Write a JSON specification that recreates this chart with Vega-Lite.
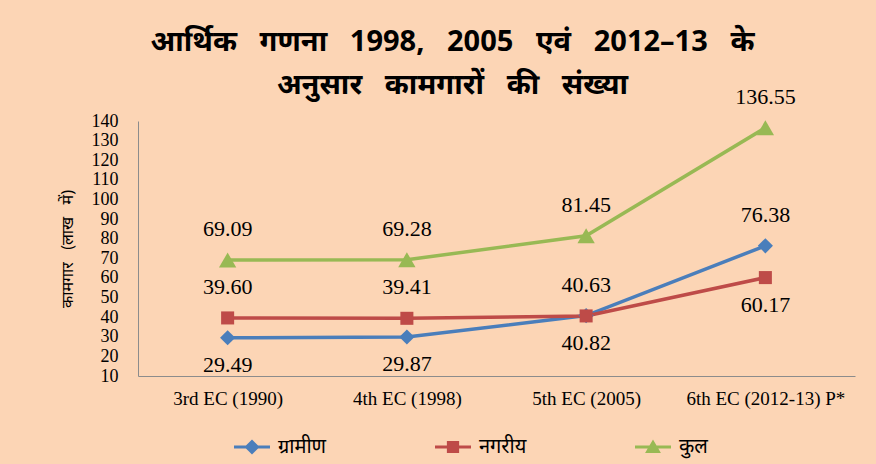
{
  "$schema": "https://vega.github.io/schema/vega-lite/v6.json",
  "autosize": "none",
  "width": 717,
  "height": 255,
  "padding": {"left": 138, "top": 121, "right": 21, "bottom": 88},
  "background": "#FCD5B5",
  "config": {"view": {"stroke": null}},
  "title": {
    "text": ["आर्थिक\u00a0\u00a0\u00a0गणना\u00a0\u00a0\u00a01998,\u00a0\u00a0\u00a02005\u00a0\u00a0\u00a0एवं\u00a0\u00a0\u00a02012–13\u00a0\u00a0\u00a0के", "अनुसार\u00a0\u00a0\u00a0कामगारों\u00a0\u00a0\u00a0की\u00a0\u00a0\u00a0संख्या"],
    "font": "Noto Sans",
    "fontSize": 29,
    "fontWeight": "bold",
    "color": "#000000",
    "anchor": "middle",
    "frame": "group",
    "dx": -44,
    "dy": 26,
    "offset": 12,
    "lineHeight": 43
  },
  "data": {
    "values": [
      {"ec": "3rd EC (1990)", "series": "ग्रामीण", "value": 29.49},
      {"ec": "4th EC (1998)", "series": "ग्रामीण", "value": 29.87},
      {"ec": "5th EC (2005)", "series": "ग्रामीण", "value": 40.82},
      {"ec": "6th EC (2012-13) P*", "series": "ग्रामीण", "value": 76.38},
      {"ec": "3rd EC (1990)", "series": "नगरीय", "value": 39.60},
      {"ec": "4th EC (1998)", "series": "नगरीय", "value": 39.41},
      {"ec": "5th EC (2005)", "series": "नगरीय", "value": 40.63},
      {"ec": "6th EC (2012-13) P*", "series": "नगरीय", "value": 60.17},
      {"ec": "3rd EC (1990)", "series": "कुल", "value": 69.09},
      {"ec": "4th EC (1998)", "series": "कुल", "value": 69.28},
      {"ec": "5th EC (2005)", "series": "कुल", "value": 81.45},
      {"ec": "6th EC (2012-13) P*", "series": "कुल", "value": 136.55}
    ]
  },
  "encoding": {
    "x": {
      "field": "ec",
      "type": "nominal",
      "sort": null,
      "scale": {"type": "point", "padding": 0.5},
      "axis": {
        "title": null,
        "labelAngle": 0,
        "ticks": false,
        "domainColor": "#8C8C8C",
        "domainWidth": 1,
        "labelFont": "Liberation Serif",
        "labelFontSize": 19,
        "labelColor": "#000000",
        "labelPadding": 13
      }
    },
    "y": {
      "field": "value",
      "type": "quantitative",
      "scale": {"domain": [10, 140], "nice": false, "zero": false},
      "axis": {
        "values": [10, 20, 30, 40, 50, 60, 70, 80, 90, 100, 110, 120, 130, 140],
        "labelOverlap": false,
        "grid": false,
        "ticks": false,
        "domainColor": "#8C8C8C",
        "labelFont": "Liberation Serif",
        "labelFontSize": 18,
        "labelColor": "#000000",
        "labelPadding": 20,
        "title": "कामगार\u00a0\u00a0\u00a0(लाख\u00a0\u00a0\u00a0में)",
        "titleFont": "Noto Sans",
        "titleFontSize": 16,
        "titleFontWeight": "normal",
        "titleColor": "#000000",
        "titlePadding": 16
      }
    },
    "color": {
      "field": "series",
      "type": "nominal",
      "scale": {"domain": ["ग्रामीण", "नगरीय", "कुल"], "range": ["#4A7EBB", "#BE4B48", "#98B954"]}
    }
  },
  "layer": [
    {
      "mark": {"type": "line", "strokeWidth": 3.5},
      "encoding": {
        "color": {
          "field": "series",
          "type": "nominal",
          "legend": {
            "orient": "none",
            "legendX": 96,
            "legendY": 308,
            "direction": "horizontal",
            "title": null,
            "symbolSize": 1296,
            "symbolStrokeWidth": 0,
            "labelFont": "Noto Sans",
            "labelFontSize": 20,
            "labelColor": "#000000",
            "labelOffset": 8,
            "columnPadding": 108,
            "encode": {
              "symbols": {
                "update": {
                  "shape": {"signal": "datum.value === 'ग्रामीण' ? 'M-1,-0.08L1,-0.08L1,0.08L-1,0.08Z M0,-0.42L0.42,0L0,0.42L-0.42,0Z' : datum.value === 'नगरीय' ? 'M-1,-0.08L1,-0.08L1,0.08L-1,0.08Z M-0.34,-0.34L0.34,-0.34L0.34,0.34L-0.34,0.34Z' : 'M-1,-0.08L1,-0.08L1,0.08L-1,0.08Z M0,-0.42L0.44,0.34L-0.44,0.34Z'"},
                  "fill": {"signal": "scale('color', datum.value)"},
                  "strokeWidth": {"value": 0}
                }
              }
            }
          }
        }
      }
    },
    {
      "mark": {"type": "point", "filled": true, "opacity": 1},
      "encoding": {
        "shape": {
          "condition": [
            {"test": "datum.series === 'ग्रामीण'", "value": "diamond"},
            {"test": "datum.series === 'नगरीय'", "value": "square"}
          ],
          "value": "triangle-up"
        },
        "size": {
          "condition": [
            {"test": "datum.series === 'ग्रामीण'", "value": 230},
            {"test": "datum.series === 'नगरीय'", "value": 170}
          ],
          "value": 300
        }
      }
    },
    {
      "transform": [
        {"filter": "!((datum.series === 'ग्रामीण' && datum.ec !== '6th EC (2012-13) P*') || (datum.series === 'नगरीय' && datum.ec === '6th EC (2012-13) P*'))"}
      ],
      "mark": {"type": "text", "dy": -31, "font": "Liberation Serif", "fontSize": 22, "color": "#000000"},
      "encoding": {
        "text": {"field": "value", "type": "quantitative", "format": ".2f"},
        "color": {"value": "#000000"}
      }
    },
    {
      "transform": [
        {"filter": "(datum.series === 'ग्रामीण' && datum.ec !== '6th EC (2012-13) P*') || (datum.series === 'नगरीय' && datum.ec === '6th EC (2012-13) P*')"}
      ],
      "mark": {"type": "text", "dy": 27, "font": "Liberation Serif", "fontSize": 22, "color": "#000000"},
      "encoding": {
        "text": {"field": "value", "type": "quantitative", "format": ".2f"},
        "color": {"value": "#000000"}
      }
    }
  ]
}
